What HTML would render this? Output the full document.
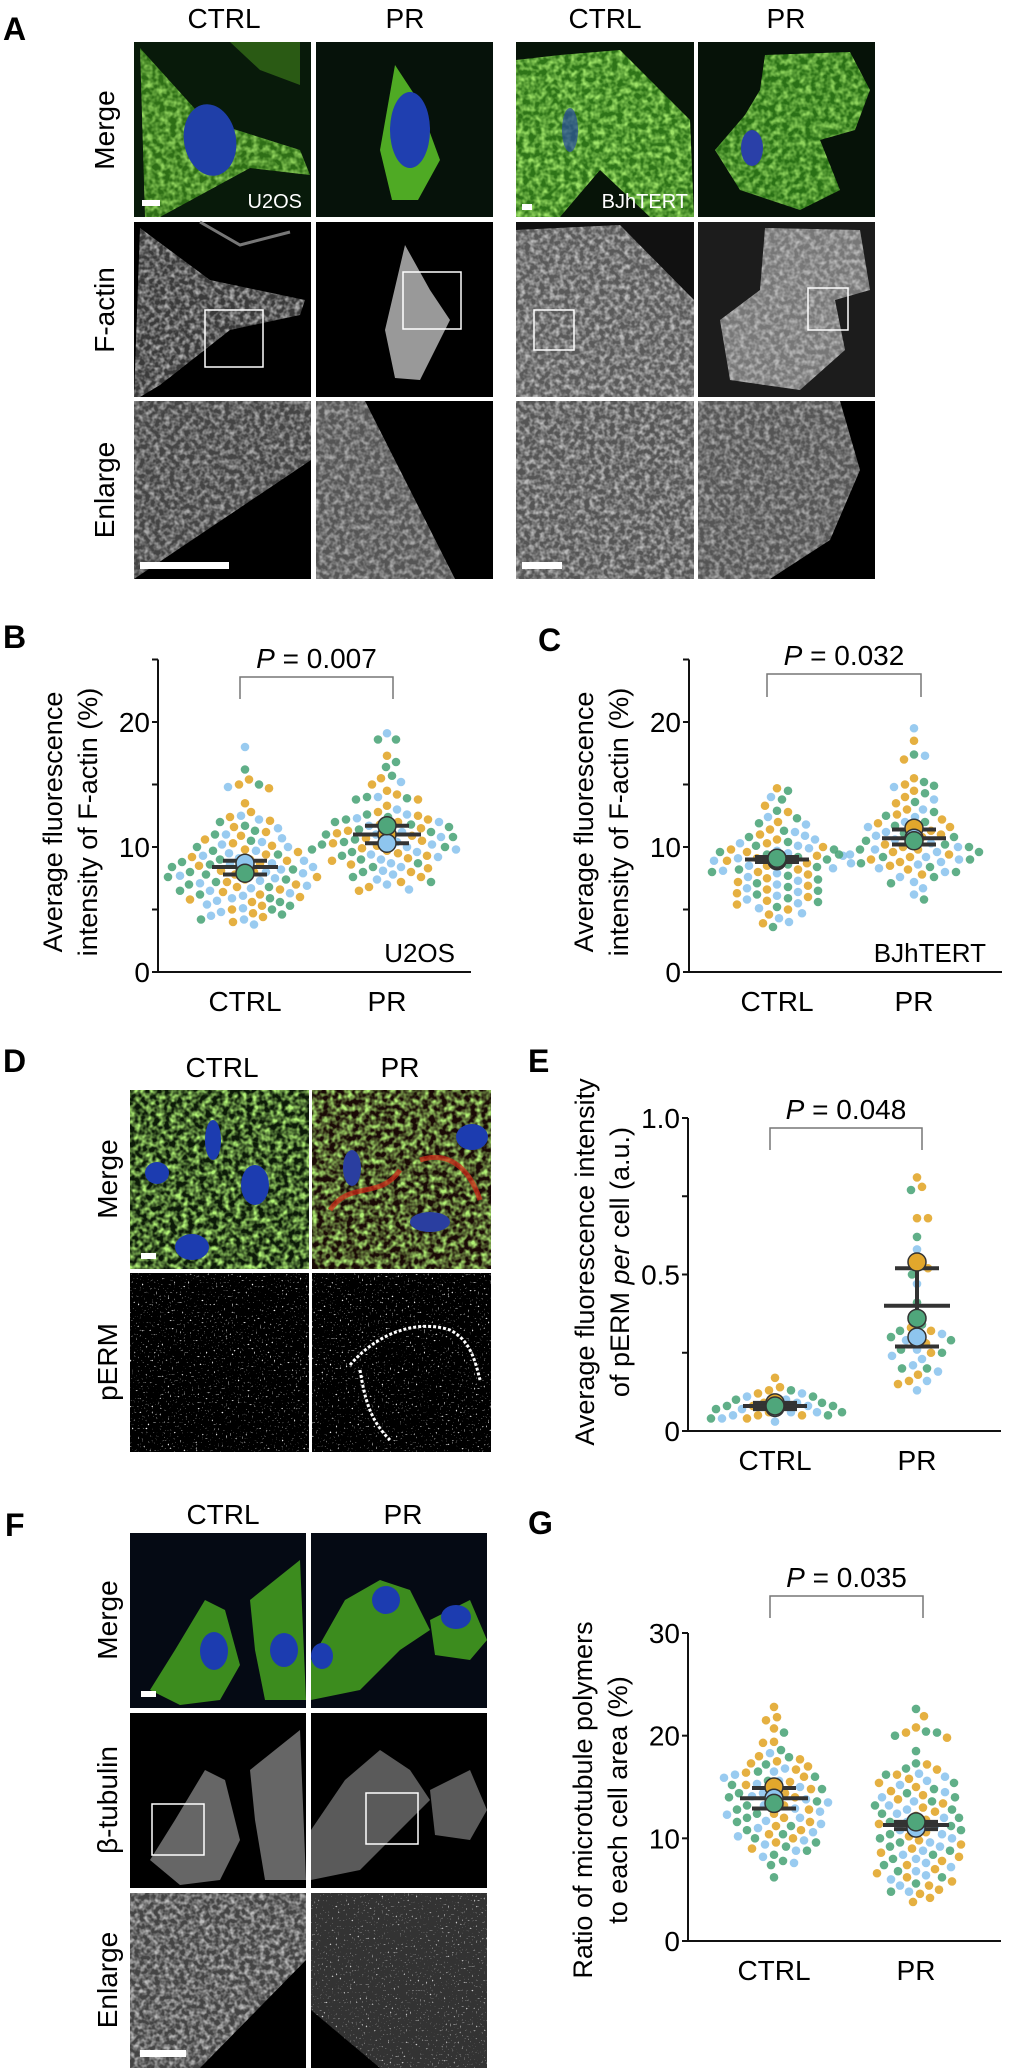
<!DOCTYPE html>
<html><head><meta charset="utf-8">
<style>
html,body{margin:0;padding:0;background:#fff;}
svg{display:block;font-family:"Liberation Sans",Arial,sans-serif;}
</style></head>
<body>
<svg id="fig" width="1009" height="2071" viewBox="0 0 1009 2071" xmlns="http://www.w3.org/2000/svg">
<defs>
  <filter id="gtex" x="0" y="0" width="100%" height="100%">
    <feTurbulence type="fractalNoise" baseFrequency="0.2" numOctaves="2" seed="3"/>
    <feColorMatrix type="matrix" values="0 0 0 0 1  0 0 0 0 1  0 0 0 0 1  0 0 0 2.2 -0.8"/>
    <feComposite in2="SourceGraphic" operator="in"/>
  </filter>
  <filter id="ctex" x="0" y="0" width="100%" height="100%">
    <feTurbulence type="fractalNoise" baseFrequency="0.17" numOctaves="2" seed="7"/>
    <feColorMatrix type="matrix" values="0 0 0 0 0.5  0 0 0 0 1  0 0 0 0 0.2  0 0 0 2.2 -0.75"/>
    <feComposite in2="SourceGraphic" operator="in"/>
  </filter>
  <filter id="speck" x="0" y="0" width="100%" height="100%">
    <feTurbulence type="fractalNoise" baseFrequency="0.5" numOctaves="1" seed="11"/>
    <feColorMatrix type="matrix" values="0 0 0 0 1  0 0 0 0 1  0 0 0 0 1  0 0 0 6 -3.9"/>
    <feComposite in2="SourceGraphic" operator="in"/>
  </filter>
</defs>

<!-- ============ PANEL A ============ -->
<g>
  <text x="3" y="40" font-size="32" font-weight="bold">A</text>
  <g font-size="28" text-anchor="middle">
    <text x="224" y="28">CTRL</text>
    <text x="405" y="28">PR</text>
    <text x="605" y="28">CTRL</text>
    <text x="786" y="28">PR</text>
    <text transform="translate(114,130) rotate(-90)">Merge</text>
    <text transform="translate(114,310) rotate(-90)">F-actin</text>
    <text transform="translate(114,490) rotate(-90)">Enlarge</text>
  </g>
  <!-- row1 merge -->
  <g>
    <rect x="134" y="42" width="177" height="175" fill="#081a0a"/>
    <path d="M140,48 L205,120 L300,150 L310,175 L250,168 L160,217 L145,217 Z" fill="#2e6e16"/>
    <path d="M140,48 L205,120 L300,150 L310,175 L250,168 L160,217 L145,217 Z" fill="#fff" filter="url(#ctex)" opacity="0.7"/>
    <path d="M230,42 L300,42 L300,85 L260,70 Z" fill="#2a5a14"/>
    <ellipse cx="210" cy="140" rx="26" ry="36" fill="#1f3fa8" transform="rotate(-10 210 140)"/>
    <rect x="142" y="200" width="18" height="6" fill="#fff"/>
    <text x="302" y="208" font-size="20" fill="#fff" text-anchor="end">U2OS</text>
  </g>
  <g>
    <rect x="316" y="42" width="177" height="175" fill="#06120a"/>
    <path d="M395,65 L418,100 L440,160 L418,200 L392,200 L380,150 Z" fill="#4faa24"/>
    <ellipse cx="410" cy="130" rx="20" ry="38" fill="#1f3fb0"/>
  </g>
  <g>
    <rect x="516" y="42" width="178" height="175" fill="#071408"/>
    <path d="M516,60 L560,55 L620,50 L690,120 L694,217 L650,217 L600,170 L560,217 L516,217 Z" fill="#2e7418"/>
    <path d="M516,60 L560,55 L620,50 L690,120 L694,217 L650,217 L600,170 L560,217 L516,217 Z" fill="#fff" filter="url(#ctex)" opacity="0.8"/>
    <ellipse cx="570" cy="130" rx="8" ry="22" fill="#2a4aa0" opacity="0.7"/>
    <rect x="522" y="204" width="10" height="6" fill="#fff"/>
    <text x="688" y="208" font-size="20" fill="#fff" text-anchor="end">BJhTERT</text>
  </g>
  <g>
    <rect x="698" y="42" width="177" height="175" fill="#061208"/>
    <path d="M765,55 L850,52 L870,90 L855,130 L820,140 L840,190 L800,210 L740,190 L715,150 L745,115 L760,90 Z" fill="#2a7016"/>
    <path d="M765,55 L850,52 L870,90 L855,130 L820,140 L840,190 L800,210 L740,190 L715,150 L745,115 L760,90 Z" fill="#fff" filter="url(#ctex)" opacity="0.7"/>
    <ellipse cx="752" cy="148" rx="11" ry="18" fill="#2a40a8"/>
  </g>
  <!-- row2 factin -->
  <g>
    <rect x="134" y="222" width="177" height="175" fill="#000"/>
    <path d="M140,228 L210,280 L305,300 L300,315 L230,330 L160,385 L140,397 L134,397 Z" fill="#3a3a3a"/>
    <path d="M140,228 L210,280 L305,300 L300,315 L230,330 L160,385 L140,397 L134,397 Z" fill="#fff" filter="url(#gtex)" opacity="0.6"/>
    <path d="M200,222 L240,245 L290,232" fill="none" stroke="#777" stroke-width="3"/>
    <rect x="205" y="310" width="58" height="57" fill="none" stroke="#fff" stroke-width="1.5"/>
  </g>
  <g>
    <rect x="316" y="222" width="177" height="175" fill="#000"/>
    <path d="M405,245 L430,290 L450,320 L420,380 L395,378 L385,330 Z" fill="#999"/>
    <rect x="403" y="272" width="58" height="57" fill="none" stroke="#fff" stroke-width="1.5"/>
  </g>
  <g>
    <rect x="516" y="222" width="178" height="175" fill="#111"/>
    <path d="M516,230 L620,225 L694,300 L694,397 L516,397 Z" fill="#5a5a5a"/>
    <path d="M516,230 L620,225 L694,300 L694,397 L516,397 Z" fill="#fff" filter="url(#gtex)" opacity="0.6"/>
    <rect x="534" y="310" width="40" height="40" fill="none" stroke="#fff" stroke-width="1.5"/>
  </g>
  <g>
    <rect x="698" y="222" width="177" height="175" fill="#1c1c1c"/>
    <path d="M765,228 L860,230 L870,290 L835,300 L845,350 L800,390 L730,380 L720,320 L760,290 Z" fill="#777"/>
    <path d="M765,228 L860,230 L870,290 L835,300 L845,350 L800,390 L730,380 L720,320 L760,290 Z" fill="#fff" filter="url(#gtex)" opacity="0.5"/>
    <rect x="808" y="288" width="40" height="42" fill="none" stroke="#fff" stroke-width="1.5"/>
  </g>
  <!-- row3 enlarge -->
  <g>
    <rect x="134" y="401" width="177" height="178" fill="#000"/>
    <path d="M134,401 L311,401 L311,460 L134,579 Z" fill="#444"/>
    <path d="M134,401 L311,401 L311,460 L134,579 Z" fill="#fff" filter="url(#gtex)" opacity="0.55"/>
    <rect x="140" y="562" width="89" height="7" fill="#fff"/>
  </g>
  <g>
    <rect x="316" y="401" width="177" height="178" fill="#000"/>
    <path d="M316,401 L365,401 L455,579 L316,579 Z" fill="#555"/>
    <path d="M316,401 L365,401 L455,579 L316,579 Z" fill="#fff" filter="url(#gtex)" opacity="0.5"/>
  </g>
  <g>
    <rect x="516" y="401" width="178" height="178" fill="#555"/>
    <rect x="516" y="401" width="178" height="178" fill="#fff" filter="url(#gtex)" opacity="0.6"/>
    <rect x="522" y="562" width="40" height="7" fill="#fff"/>
  </g>
  <g>
    <rect x="698" y="401" width="177" height="178" fill="#000"/>
    <path d="M698,401 L840,401 L860,470 L830,540 L770,579 L698,579 Z" fill="#555"/>
    <path d="M698,401 L840,401 L860,470 L830,540 L770,579 L698,579 Z" fill="#fff" filter="url(#gtex)" opacity="0.5"/>
  </g>
</g>

<!-- ============ PANEL D ============ -->
<g>
  <text x="3" y="1072" font-size="32" font-weight="bold">D</text>
  <g font-size="28" text-anchor="middle">
    <text x="222" y="1077">CTRL</text>
    <text x="400" y="1077">PR</text>
    <text transform="translate(117,1179) rotate(-90)">Merge</text>
    <text transform="translate(117,1362) rotate(-90)">pERM</text>
  </g>
  <g>
    <rect x="130" y="1090" width="179" height="179" fill="#0c1a08"/>
    <rect x="130" y="1090" width="179" height="179" fill="#fff" filter="url(#ctex)" opacity="0.95"/>
    <ellipse cx="255" cy="1185" rx="14" ry="20" fill="#1c3cb0"/>
    <ellipse cx="192" cy="1247" rx="17" ry="13" fill="#1c3cb0"/>
    <ellipse cx="213" cy="1140" rx="8" ry="20" fill="#1c3cb0"/>
    <ellipse cx="157" cy="1173" rx="12" ry="11" fill="#1c3cb0"/>
    <rect x="141" y="1253" width="15" height="6" fill="#fff"/>
  </g>
  <g>
    <rect x="312" y="1090" width="179" height="179" fill="#1a0a06"/>
    <rect x="312" y="1090" width="179" height="179" fill="#fff" filter="url(#ctex)" opacity="0.95"/>
    <path d="M330,1210 C350,1180 380,1200 400,1170 M420,1160 C450,1150 470,1170 480,1200" fill="none" stroke="#d42a18" stroke-width="5" opacity="0.7"/>
    <ellipse cx="472" cy="1137" rx="16" ry="13" fill="#1c3cb0"/>
    <ellipse cx="352" cy="1168" rx="9" ry="18" fill="#2a3ea0"/>
    <ellipse cx="430" cy="1222" rx="20" ry="10" fill="#2a3ea0"/>
  </g>
  <g>
    <rect x="130" y="1273" width="179" height="179" fill="#000"/>
    <rect x="130" y="1273" width="179" height="179" fill="#fff" filter="url(#speck)"/>
  </g>
  <g>
    <rect x="312" y="1273" width="179" height="179" fill="#000"/>
    <rect x="312" y="1273" width="179" height="179" fill="#fff" filter="url(#speck)"/>
    <path d="M350,1365 C380,1330 420,1320 450,1330 C470,1340 475,1360 480,1380" fill="none" stroke="#fff" stroke-width="3" stroke-dasharray="3 2"/>
    <path d="M360,1370 C365,1400 370,1420 390,1440" fill="none" stroke="#fff" stroke-width="3" stroke-dasharray="3 2"/>
  </g>
</g>

<!-- ============ PANEL F ============ -->
<g>
  <text x="5" y="1536" font-size="32" font-weight="bold">F</text>
  <g font-size="28" text-anchor="middle">
    <text x="223" y="1524">CTRL</text>
    <text x="403" y="1524">PR</text>
    <text transform="translate(117,1620) rotate(-90)">Merge</text>
    <text transform="translate(117,1800) rotate(-90)">β-tubulin</text>
    <text transform="translate(117,1980) rotate(-90)">Enlarge</text>
  </g>
  <g>
    <rect x="130" y="1533" width="176" height="175" fill="#050a14"/>
    <path d="M150,1690 L175,1650 L205,1600 L225,1610 L240,1665 L220,1700 L180,1705 Z" fill="#3c8c1e"/>
    <path d="M250,1600 L300,1560 L306,1700 L265,1700 L255,1650 Z" fill="#3c8c1e"/>
    <ellipse cx="214" cy="1651" rx="14" ry="19" fill="#1c3cb0"/>
    <ellipse cx="284" cy="1650" rx="14" ry="17" fill="#1c3cb0"/>
    <rect x="141" y="1691" width="15" height="6" fill="#fff"/>
  </g>
  <g>
    <rect x="311" y="1533" width="176" height="175" fill="#050a14"/>
    <path d="M345,1600 L380,1580 L410,1590 L430,1630 L400,1650 L360,1690 L311,1700 L311,1660 Z" fill="#3c8c1e"/>
    <path d="M430,1620 L470,1600 L487,1640 L470,1660 L435,1655 Z" fill="#3c8c1e"/>
    <ellipse cx="386" cy="1600" rx="14" ry="14" fill="#1c3cb0"/>
    <ellipse cx="456" cy="1617" rx="15" ry="12" fill="#1c3cb0"/>
    <ellipse cx="322" cy="1656" rx="11" ry="13" fill="#1c3cb0"/>
  </g>
  <g>
    <rect x="130" y="1713" width="176" height="175" fill="#000"/>
    <path d="M150,1860 L175,1820 L205,1770 L225,1780 L240,1840 L220,1880 L180,1885 Z" fill="#666"/>
    <path d="M250,1770 L300,1730 L306,1880 L265,1880 L255,1820 Z" fill="#666"/>
    <rect x="152" y="1804" width="52" height="51" fill="none" stroke="#fff" stroke-width="1.5"/>
  </g>
  <g>
    <rect x="311" y="1713" width="176" height="175" fill="#000"/>
    <path d="M345,1780 L380,1750 L410,1770 L430,1800 L400,1830 L360,1870 L311,1880 L311,1830 Z" fill="#5a5a5a"/>
    <path d="M430,1790 L470,1770 L487,1810 L470,1840 L435,1835 Z" fill="#5a5a5a"/>
    <rect x="366" y="1793" width="52" height="51" fill="none" stroke="#fff" stroke-width="1.5"/>
  </g>
  <g>
    <rect x="130" y="1893" width="176" height="175" fill="#000"/>
    <path d="M130,1893 L306,1893 L306,1960 L200,2068 L130,2068 Z" fill="#444"/>
    <path d="M130,1893 L306,1893 L306,1960 L200,2068 L130,2068 Z" fill="#fff" filter="url(#gtex)" opacity="0.65"/>
    <rect x="140" y="2050" width="46" height="7" fill="#fff"/>
  </g>
  <g>
    <rect x="311" y="1893" width="176" height="175" fill="#000"/>
    <path d="M311,1893 L487,1893 L487,2068 L380,2068 L311,2010 Z" fill="#333"/>
    <path d="M311,1893 L487,1893 L487,2068 L380,2068 L311,2010 Z" fill="#fff" filter="url(#speck)" opacity="0.8"/>
  </g>
</g>

<g id="charts"></g>
</svg>

<script>
// ---------- chart data ----------
var bCategories = ["CTRL", "PR"];
var bTicks = [0, 10, 20];
var bCtrlYellow = [15.4,15.0,14.7,13.5,12.8,12.4,12.1,11.6,11.2,10.9,10.6,10.3,10.1,9.8,9.6,9.4,9.2,9.0,8.9,8.7,8.5,8.3,8.1,8.0,7.8,7.6,7.4,7.2,7.0,6.8,6.6,6.4,6.2,6.0,5.8,5.6,5.3,5.0,4.7,4.4,4.0];
var bCtrlBlue = [18.0,14.8,12.5,12.2,11.5,11.0,10.7,10.4,10.2,10.0,9.7,9.5,9.3,9.1,8.9,8.7,8.6,8.4,8.2,8.0,7.9,7.7,7.5,7.3,7.1,6.9,6.7,6.5,6.3,6.1,5.9,5.7,5.4,5.1,4.8,4.5,4.2,3.8];
var bCtrlGreen = [16.2,15.0,12.0,11.7,11.3,11.0,10.5,10.0,9.7,9.4,9.0,8.8,8.6,8.4,8.2,8.0,7.8,7.6,7.4,7.2,7.0,6.8,6.5,6.2,5.9,5.6,5.3,5.0,4.6,4.2];
var bPrYellow = [17.3,15.5,15.0,14.5,14.2,13.8,13.3,12.8,12.5,12.2,12.0,11.8,11.5,11.3,11.1,10.9,10.7,10.5,10.3,10.1,9.9,9.7,9.5,9.3,9.1,8.9,8.6,8.3,8.0,7.6,7.2,6.8,6.5];
var bPrBlue = [19.1,15.2,14.0,13.0,12.6,12.3,12.0,11.7,11.4,11.2,11.0,10.8,10.6,10.4,10.2,10.0,9.8,9.6,9.4,9.2,9.0,8.7,8.4,8.1,7.8,7.4,7.0,6.6];
var bPrGreen = [18.6,18.6,16.8,16.4,15.7,14.0,13.9,13.8,12.6,12.4,12.2,12.0,11.8,11.6,11.4,11.2,11.0,10.8,10.6,10.4,10.2,10.0,9.8,9.6,9.3,9.0,8.7,8.4,8.0,7.6,7.2];
var bCtrlMeans = [8.4, 8.7, 7.9];   // yellow, blue, green
var bPrMeans = [11.0, 10.3, 11.7];
var bCtrlBar = [8.4, 7.8, 8.9];     // mean, low, high
var bPrBar = [11.0, 10.3, 11.7];

var cCategories = ["CTRL", "PR"];
var cTicks = [0, 10, 20];
var cCtrlYellow = [14.7,13.3,12.8,12.0,11.4,11.0,10.6,10.3,10.0,9.8,9.6,9.3,9.1,8.9,8.7,8.5,8.2,8.0,7.8,7.5,7.2,6.9,6.6,6.3,6.0,5.7,5.4,5.0,4.6,3.9];
var cCtrlBlue = [14.0,12.4,11.8,11.2,10.9,10.6,10.3,10.1,9.9,9.7,9.5,9.3,9.1,8.9,8.7,8.5,8.3,8.1,7.9,7.6,7.3,7.0,6.7,6.4,6.1,5.8,5.5,5.1,4.7,4.3,4.0];
var cCtrlGreen = [14.5,13.8,12.9,12.3,11.9,11.3,10.8,10.4,10.1,9.8,9.6,9.4,9.2,9.0,8.8,8.6,8.4,8.2,8.0,7.7,7.4,7.1,6.8,6.5,6.2,5.9,5.6,5.2,3.6];
var cPrYellow = [18.5,17.0,15.5,15.0,14.5,14.0,13.5,13.0,12.6,12.2,11.9,11.6,11.3,11.0,10.8,10.5,10.2,10.0,9.8,9.6,9.4,9.2,9.0,8.8,8.5,8.2,7.8];
var cPrBlue = [19.5,17.3,14.8,13.8,13.0,12.4,12.0,11.6,11.2,10.9,10.6,10.3,10.0,9.8,9.6,9.4,9.2,9.0,8.8,8.6,8.3,8.0,7.6,7.2,6.7,6.2];
var cPrGreen = [17.4,15.2,14.9,14.3,13.6,12.8,12.5,12.0,11.7,11.4,11.1,10.8,10.5,10.2,10.0,9.8,9.6,9.4,9.2,9.0,8.7,8.4,8.0,7.6,7.1,5.8];
var cCtrlMeans = [8.9, 9.0, 9.1];
var cPrMeans = [11.5, 10.7, 10.5];
var cCtrlBar = [9.0, 8.8, 9.2];
var cPrBar = [10.7, 10.2, 11.4];

var eCategories = ["CTRL", "PR"];
var eTicks = [0, 0.5, 1.0];
var eTickLabels = ["0", "0.5", "1.0"];
var eCtrlYellow = [0.17,0.14,0.13,0.12,0.10,0.09,0.08,0.07,0.06,0.05,0.05,0.04];
var eCtrlBlue = [0.12,0.11,0.10,0.09,0.08,0.07,0.06,0.06,0.05,0.04,0.03];
var eCtrlGreen = [0.13,0.11,0.10,0.09,0.08,0.08,0.07,0.06,0.05,0.04];
var ePrYellow = [0.81,0.78,0.68,0.68,0.53,0.52,0.33,0.32,0.30,0.28,0.25,0.18,0.16,0.15];
var ePrBlue = [0.58,0.47,0.31,0.29,0.26,0.24,0.23,0.21,0.19,0.16,0.13];
var ePrGreen = [0.77,0.62,0.50,0.41,0.37,0.34,0.32,0.30,0.29,0.26,0.25,0.20,0.20];
var eCtrlMeans = [0.09, 0.075, 0.08];
var ePrMeans = [0.54, 0.30, 0.36];
var eCtrlBar = [0.08, 0.07, 0.09];
var ePrBar = [0.40, 0.27, 0.52];

var gCategories = ["CTRL", "PR"];
var gTicks = [0, 10, 20, 30];
var gCtrlYellow = [22.8,21.8,21.5,20.7,19.4,19.3,18.0,17.7,17.5,17.3,17.0,16.7,16.4,16.0,15.5,15.2,14.8,14.4,14.0,13.6,13.2,12.8,12.4,12.0,11.6,11.2,10.8,10.4,10.0,9.6,9.0];
var gCtrlBlue = [18.3,16.8,16.5,16.2,15.9,15.6,15.3,15.0,14.7,14.4,14.1,13.8,13.5,13.2,12.9,12.6,12.3,12.0,11.7,11.4,11.0,10.6,10.2,9.8,9.4,8.8,8.2,7.6];
var gCtrlGreen = [20.3,18.6,17.9,17.2,16.5,16.0,15.6,15.2,14.8,14.4,14.0,13.6,13.2,12.8,12.4,12.0,11.6,11.2,10.8,10.4,10.0,9.6,9.2,8.8,8.4,7.8,7.4,6.2];
var gPrYellow = [21.9,20.8,20.3,19.8,17.2,16.7,16.2,15.8,15.4,15.0,14.6,14.2,13.8,13.4,13.0,12.6,12.2,11.8,11.4,11.0,10.6,10.2,9.8,9.4,9.0,8.6,8.2,7.8,7.4,7.0,6.6,6.2,5.8,5.4,5.0,4.6,4.2,3.8];
var gPrBlue = [16.3,16.0,15.6,15.2,14.5,14.0,13.6,13.2,12.8,12.4,12.0,11.6,11.2,10.8,10.4,10.0,9.6,9.2,8.8,8.4,8.0,7.6,7.2,6.8,6.4,6.0,5.4,4.8];
var gPrGreen = [22.6,20.4,20.3,20.0,18.5,17.3,16.8,16.2,15.4,14.8,14.4,14.0,13.6,13.2,12.8,12.4,12.0,11.6,11.2,10.8,10.4,10.0,9.6,9.2,8.8,8.4,8.0,7.4,6.8,6.2,5.6,4.8];
var gCtrlMeans = [15.0, 13.9, 13.4];
var gPrMeans = [11.3, 11.0, 11.6];
var gCtrlBar = [13.9, 12.9, 14.9];
var gPrBar = [11.3, 10.9, 11.6];

// ---------- drawing ----------
var NS = "http://www.w3.org/2000/svg";
var root = document.getElementById("charts");
var COLORS = ["#e2a72c", "#8ec5ee", "#4fa67b"];
function mk(tag, attrs, parent) {
  var e = document.createElementNS(NS, tag);
  for (var k in attrs) e.setAttribute(k, attrs[k]);
  (parent || root).appendChild(e);
  return e;
}
function txt(s, attrs, parent) { var t = mk("text", attrs, parent); t.textContent = s; return t; }

function drawChart(cfg) {
  var g = mk("g", {});
  
  
  var yPx = function (v) { return cfg.y0 - (v - cfg.min) / (cfg.max - cfg.min) * (cfg.y0 - cfg.yTop); };
  var xPx = function (i) { return cfg.cx[i]; };
  var ya = mk("line", {x1: cfg.ax, x2: cfg.ax, y1: yPx(cfg.axisTop), y2: cfg.y0, stroke: "#111", "stroke-width": 2}, g);
  
  
  var xa = mk("line", {x1: cfg.ax - 6, x2: cfg.xEnd, y1: cfg.y0, y2: cfg.y0, stroke: "#111", "stroke-width": 2}, g);
  
  
  cfg.minor.forEach(function (v) {
    mk("line", {x1: cfg.ax - 6, x2: cfg.ax, y1: yPx(v), y2: yPx(v), stroke: "#111", "stroke-width": 2}, g);
  });
  cfg.ticks.forEach(function (v, i) {
    mk("line", {x1: cfg.ax - 6, x2: cfg.ax, y1: yPx(v), y2: yPx(v), stroke: "#111", "stroke-width": 2}, g);
    var t = txt(cfg.tickLabels ? cfg.tickLabels[i] : String(v), {x: cfg.ax - 8, y: yPx(v) + 10, "font-size": 28, "text-anchor": "end"}, g);
    
    
  });
  cfg.cats.forEach(function (c, i) {
    var t = txt(c, {x: xPx(i), y: cfg.y0 + 39, "font-size": 28, "text-anchor": "middle"}, g);
    
    
  });
  var tt = txt("", {transform: "translate(" + cfg.titleX + "," + cfg.titleY + ") rotate(-90)", "font-size": 27, "text-anchor": "middle"}, g);
  
  
  cfg.title.forEach(function (line, i) {
    var ts = mk("tspan", {x: 0, dy: i === 0 ? 0 : 35}, tt);
    ts.innerHTML = line;
  });
  var br = mk("path", {d: "M" + cfg.br[0] + "," + cfg.br[3] + " V" + cfg.br[2] + " H" + cfg.br[1] + " V" + cfg.br[3], fill: "none", stroke: "#777", "stroke-width": 1.5}, g);
  
  
  var pt = txt("", {x: (cfg.br[0] + cfg.br[1]) / 2, y: cfg.br[2] - 9, "font-size": 28, "text-anchor": "middle"}, g);
  
  
  pt.innerHTML = '<tspan font-style="italic">P</tspan> = ' + cfg.p;
  if (cfg.cell) {
    var cl = txt(cfg.cell, {x: cfg.xEnd - 16, y: cfg.y0 - 10, "font-size": 26, "text-anchor": "end"}, g);
    
    
  }
  var r = 4.3, sep = 10.5;
  cfg.groups.forEach(function (grp, gi) {
    var pts = [];
    grp.series.forEach(function (arr, si) {
      arr.forEach(function (v, k) { pts.push({v: v, c: si, k: k}); });
    });
    pts.sort(function (a, b) { return (b.v - a.v) || (a.c - b.c); });
    var placed = [];
    pts.forEach(function (p) {
      var y = yPx(p.v), best = null;
      for (var off = 0; off < 200; off += 1) {
        var cands = off === 0 ? [0] : [off, -off];
        for (var q = 0; q < cands.length; q++) {
          var x = xPx(gi) + cands[q], ok = true;
          for (var j = 0; j < placed.length; j++) {
            var dx = placed[j].x - x, dy = placed[j].y - y;
            if (dx * dx + dy * dy < sep * sep) { ok = false; break; }
          }
          if (ok) { best = x; break; }
        }
        if (best !== null) break;
      }
      placed.push({x: best, y: y});
      var d = mk("circle", {cx: best, cy: y, r: r, fill: COLORS[p.c], "fill-opacity": 0.9}, g);
      
      
    });
    var bar = grp.bar, cx = xPx(gi);
    var eb = mk("g", {stroke: "#333", "stroke-width": 4}, g);
    
    
    mk("line", {x1: cx - grp.wide, x2: cx + grp.wide, y1: yPx(bar[0]), y2: yPx(bar[0])}, eb);
    mk("line", {x1: cx, x2: cx, y1: yPx(bar[1]), y2: yPx(bar[2])}, eb);
    mk("line", {x1: cx - grp.narrow, x2: cx + grp.narrow, y1: yPx(bar[1]), y2: yPx(bar[1])}, eb);
    mk("line", {x1: cx - grp.narrow, x2: cx + grp.narrow, y1: yPx(bar[2]), y2: yPx(bar[2])}, eb);
    grp.means.forEach(function (m, si) {
      var mc = mk("circle", {cx: cx, cy: yPx(m), r: 9, fill: COLORS[si], stroke: "#333", "stroke-width": 1.5}, g);
      
      
    });
  });
}

drawChart({name: "chart-b", ax: 158, y0: 972, yTop: 722, min: 0, max: 20, axisTop: 25,
  ticks: bTicks, minor: [5, 15, 25], xEnd: 471, cx: [245, 387], cats: bCategories,
  title: ["Average fluorescence", "intensity of F-actin (%)"], titleX: 62, titleY: 822,
  br: [240, 393, 677, 699], p: "0.007", cell: "U2OS",
  groups: [{series: [bCtrlYellow, bCtrlBlue, bCtrlGreen], means: bCtrlMeans, bar: bCtrlBar, wide: 33, narrow: 22},
           {series: [bPrYellow, bPrBlue, bPrGreen], means: bPrMeans, bar: bPrBar, wide: 34, narrow: 22}]});
drawChart({name: "chart-c", ax: 689, y0: 972, yTop: 722, min: 0, max: 20, axisTop: 25,
  ticks: cTicks, minor: [5, 15, 25], xEnd: 1002, cx: [777, 914], cats: cCategories,
  title: ["Average fluorescence", "intensity of F-actin  (%)"], titleX: 593, titleY: 822,
  br: [767, 921, 674, 697], p: "0.032", cell: "BJhTERT",
  groups: [{series: [cCtrlYellow, cCtrlBlue, cCtrlGreen], means: cCtrlMeans, bar: cCtrlBar, wide: 32, narrow: 22},
           {series: [cPrYellow, cPrBlue, cPrGreen], means: cPrMeans, bar: cPrBar, wide: 32, narrow: 22}]});
drawChart({name: "chart-e", ax: 688, y0: 1431, yTop: 1118, min: 0, max: 1.0, axisTop: 1.0,
  ticks: eTicks, tickLabels: eTickLabels, minor: [0.25, 0.75], xEnd: 1001, cx: [775, 917], cats: eCategories,
  title: ["Average fluorescence intensity", "of pERM <tspan font-style='italic'>per</tspan> cell (a.u.)"], titleX: 594, titleY: 1262,
  br: [770, 922, 1128, 1150], p: "0.048", cell: null,
  groups: [{series: [eCtrlYellow, eCtrlBlue, eCtrlGreen], means: eCtrlMeans, bar: eCtrlBar, wide: 32, narrow: 22},
           {series: [ePrYellow, ePrBlue, ePrGreen], means: ePrMeans, bar: ePrBar, wide: 33, narrow: 22}]});
drawChart({name: "chart-g", ax: 688, y0: 1941, yTop: 1633, min: 0, max: 30, axisTop: 30,
  ticks: gTicks, minor: [], xEnd: 1001, cx: [774, 916], cats: gCategories,
  title: ["Ratio of microtubule polymers", "to each cell area (%)"], titleX: 592, titleY: 1800,
  br: [770, 923, 1596, 1618], p: "0.035", cell: null,
  groups: [{series: [gCtrlYellow, gCtrlBlue, gCtrlGreen], means: gCtrlMeans, bar: gCtrlBar, wide: 34, narrow: 22},
           {series: [gPrYellow, gPrBlue, gPrGreen], means: gPrMeans, bar: gPrBar, wide: 33, narrow: 22}]});

[["B", 3, 648], ["C", 538, 651], ["E", 528, 1072], ["G", 528, 1534]].forEach(function (L) {
  var t = txt(L[0], {x: L[1], y: L[2], "font-size": 32, "font-weight": "bold"});
  
  
});
</script>
</body></html>
